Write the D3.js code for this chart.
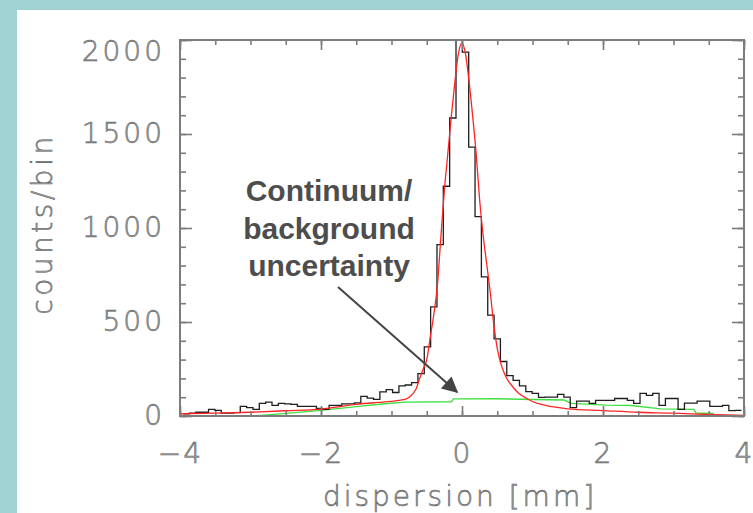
<!DOCTYPE html>
<html>
<head>
<meta charset="utf-8">
<script src="https://cdn.jsdelivr.net/npm/d3@7"></script>
<style>
  html, body { margin: 0; padding: 0; background: #a2d3d4; }
  svg { display: block; }
  .tick-label { font-family: "DejaVu Sans", sans-serif; font-size: 28px; font-weight: 200;
                fill: #a4a4a4; stroke: #5e5e5e; stroke-width: 0.55px; }
  .note { font-family: "Liberation Sans", Arial, sans-serif; font-weight: bold; font-size: 30px; fill: #4d4d4d; }
</style>
</head>
<body>
<svg id="chart" width="753" height="513"></svg>
<script>
// Histogram of counts per bin along the dispersion direction
const binLeft = -3.955;     // left edge of the first bin [mm]
const binWidth = 0.09;      // bin width [mm]
const counts = [
  12, 15, 20, 20, 35, 30, 15, 15, 18, 51,
  45, 35, 67, 74, 56, 67, 65, 62, 51, 51,
  51, 40, 35, 56, 56, 65, 65, 70, 104, 95,
  88, 128, 140, 125, 160, 165, 178, 225, 368, 580,
  912, 1222, 1585, 2010, 1935, 1430, 1060, 740, 537, 410,
  290, 215, 190, 160, 130, 120, 99, 100, 100, 115,
  100, 45, 79, 79, 67, 83, 83, 83, 93, 93,
  83, 67, 120, 110, 120, 56, 93, 93, 35, 68,
  68, 79, 79, 51, 51, 56, 29, 30
];

// Fitted line profile (peak + continuum)
const fitX = [-4.0, -3.5, -3.0, -2.5, -2.0, -1.5, -1.2, -1.0, -0.9, -0.8, -0.75, -0.7, -0.65, -0.6, -0.55,
              -0.5, -0.45, -0.4, -0.35, -0.3, -0.25, -0.2, -0.15, -0.1, -0.05, 0.0, 0.05, 0.1, 0.15, 0.2,
              0.25, 0.3, 0.35, 0.4, 0.45, 0.5, 0.55, 0.6, 0.65, 0.7, 0.8, 0.9, 1.0, 1.1, 1.2,
              1.3, 1.5, 2.0, 2.5, 3.0, 3.5, 4.0];
const fitY = [12, 15, 20, 28, 37, 62, 72, 78, 83, 90, 100, 118, 145, 200, 250,
              300, 420, 540, 690, 950, 1200, 1400, 1600, 1780, 1930, 1985, 1925, 1780, 1600, 1400,
              1150, 960, 810, 660, 490, 360, 280, 228, 190, 165, 122, 97, 77, 64, 55,
              48, 38, 29, 20, 15, 8, 3];

// Continuum / background level
const bgX = [-2.96, -2.5, -2.0, -1.5, -1.1, -0.8, -0.15, -0.12, 0.5, 1.0, 1.45, 1.55, 2.05, 2.4, 2.82, 3.29, 3.32, 3.57];
const bgY = [0, 14, 30, 50, 65, 74, 76, 91, 92, 88, 85, 67, 58, 56, 38, 35, 16, 13];

// Axis ticks
const xMajor = [-4, -2, 0, 2, 4];
const xMinor = d3.range(-4, 4.001, 0.5);
const yMajor = [0, 500, 1000, 1500, 2000];
const yMinor = d3.range(0, 2001, 100);

const xTitle = "dispersion [mm]";
const yTitle = "counts/bin";
const noteLines = ["Continuum/", "background", "uncertainty"];

const W = 753, H = 513;
const plot = { left: 180, right: 744, top: 40, bottom: 416 };

const svg = d3.select("#chart");

// white page area inside the coloured border
svg.append("rect").attr("x", 17).attr("y", 10).attr("width", W - 17).attr("height", H - 10).attr("fill", "#ffffff");

const x = d3.scaleLinear().domain([-4, 4]).range([plot.left, plot.right]);
const y = d3.scaleLinear().domain([0, 2000]).range([plot.bottom, plot.top]);

svg.append("clipPath").attr("id", "plot-clip")
  .append("rect").attr("x", plot.left).attr("y", plot.top)
  .attr("width", plot.right - plot.left).attr("height", plot.bottom - plot.top);

const g = svg.append("g").attr("clip-path", "url(#plot-clip)");

// background (green)
g.append("path")
  .datum(bgX.map((v, i) => [v, bgY[i]]))
  .attr("fill", "none").attr("stroke", "#3ee03e").attr("stroke-width", 1.4)
  .attr("d", d3.line().x(d => x(d[0])).y(d => y(d[1])));

// histogram (step line)
const steps = [];
counts.forEach((c, i) => {
  const x0 = binLeft + i * binWidth;
  steps.push([x0, c], [x0 + binWidth, c]);
});
g.append("path")
  .datum(steps)
  .attr("fill", "none").attr("stroke", "#1e1e1e").attr("stroke-width", 1.3)
  .attr("d", d3.line().x(d => x(d[0])).y(d => y(d[1])));

// fit (red)
g.append("path")
  .datum(fitX.map((v, i) => [v, fitY[i]]))
  .attr("fill", "none").attr("stroke", "#ff2424").attr("stroke-width", 1.3)
  .attr("d", d3.line().curve(d3.curveMonotoneX).x(d => x(d[0])).y(d => y(d[1])));

// axes: minor and major ticks on all four sides
const axisColor = "#7c7c7c";
function styleAxis(sel) {
  sel.select(".domain").remove();
  sel.selectAll(".tick line").attr("stroke", axisColor).attr("stroke-width", 1.6);
}
svg.append("g").attr("transform", `translate(0,${plot.bottom})`)
  .call(d3.axisBottom(x).tickValues(xMinor).tickSize(-5).tickFormat(""))
  .call(styleAxis);
svg.append("g").attr("transform", `translate(0,${plot.top})`)
  .call(d3.axisTop(x).tickValues(xMinor).tickSize(-5).tickFormat(""))
  .call(styleAxis);
svg.append("g").attr("transform", `translate(${plot.left},0)`)
  .call(d3.axisLeft(y).tickValues(yMinor).tickSize(-6).tickFormat(""))
  .call(styleAxis);
svg.append("g").attr("transform", `translate(${plot.right},0)`)
  .call(d3.axisRight(y).tickValues(yMinor).tickSize(-6).tickFormat(""))
  .call(styleAxis);

const xAxis = svg.append("g").attr("transform", `translate(0,${plot.bottom})`)
  .call(d3.axisBottom(x).tickValues(xMajor).tickSize(-10).tickPadding(27).tickFormat(d3.format("d")))
  .call(styleAxis);
svg.append("g").attr("transform", `translate(0,${plot.top})`)
  .call(d3.axisTop(x).tickValues(xMajor).tickSize(-10).tickFormat(""))
  .call(styleAxis);
const yAxis = svg.append("g").attr("transform", `translate(${plot.left},0)`)
  .call(d3.axisLeft(y).tickValues(yMajor).tickSize(-12).tickPadding(15).tickFormat(d3.format("d")))
  .call(styleAxis);
svg.append("g").attr("transform", `translate(${plot.right},0)`)
  .call(d3.axisRight(y).tickValues(yMajor).tickSize(-12).tickFormat(""))
  .call(styleAxis);

xAxis.selectAll("text").attr("class", "tick-label").attr("fill", null).attr("font-size", null).attr("font-family", null)
  .style("letter-spacing", "2px");
yAxis.selectAll("text").attr("class", "tick-label").attr("fill", null).attr("font-size", null).attr("font-family", null)
  .style("letter-spacing", "3px")
  .attr("y", d => Math.max(0, plot.top + 12 - y(d)));

// frame
svg.append("rect")
  .attr("x", plot.left).attr("y", plot.top)
  .attr("width", plot.right - plot.left).attr("height", plot.bottom - plot.top)
  .attr("fill", "none").attr("stroke", axisColor).attr("stroke-width", 2);

// axis titles
svg.append("text").attr("class", "tick-label")
  .attr("x", (plot.left + plot.right) / 2 - 2).attr("y", 506)
  .attr("text-anchor", "middle").style("letter-spacing", "3px")
  .text(xTitle);
svg.append("text").attr("class", "tick-label")
  .attr("transform", `translate(52,${(plot.top + plot.bottom) / 2 - 4}) rotate(-90)`)
  .attr("text-anchor", "middle").style("letter-spacing", "3.5px")
  .text(yTitle);

// annotation with arrow
const note = svg.append("text").attr("class", "note").attr("text-anchor", "middle");
noteLines.forEach((t, i) => {
  note.append("tspan").attr("x", 329).attr("y", 201 + i * 37.5).text(t);
});

svg.append("defs").append("marker")
  .attr("id", "head").attr("viewBox", "0 0 10 10").attr("refX", 9).attr("refY", 5)
  .attr("markerWidth", 9).attr("markerHeight", 8).attr("markerUnits", "strokeWidth").attr("orient", "auto")
  .append("path").attr("d", "M0,0 L10,5 L0,10 Z").attr("fill", "#444");
svg.append("line")
  .attr("x1", 338).attr("y1", 287).attr("x2", 457).attr("y2", 392)
  .attr("stroke", "#444").attr("stroke-width", 2).attr("marker-end", "url(#head)");
</script>
</body>
</html>
